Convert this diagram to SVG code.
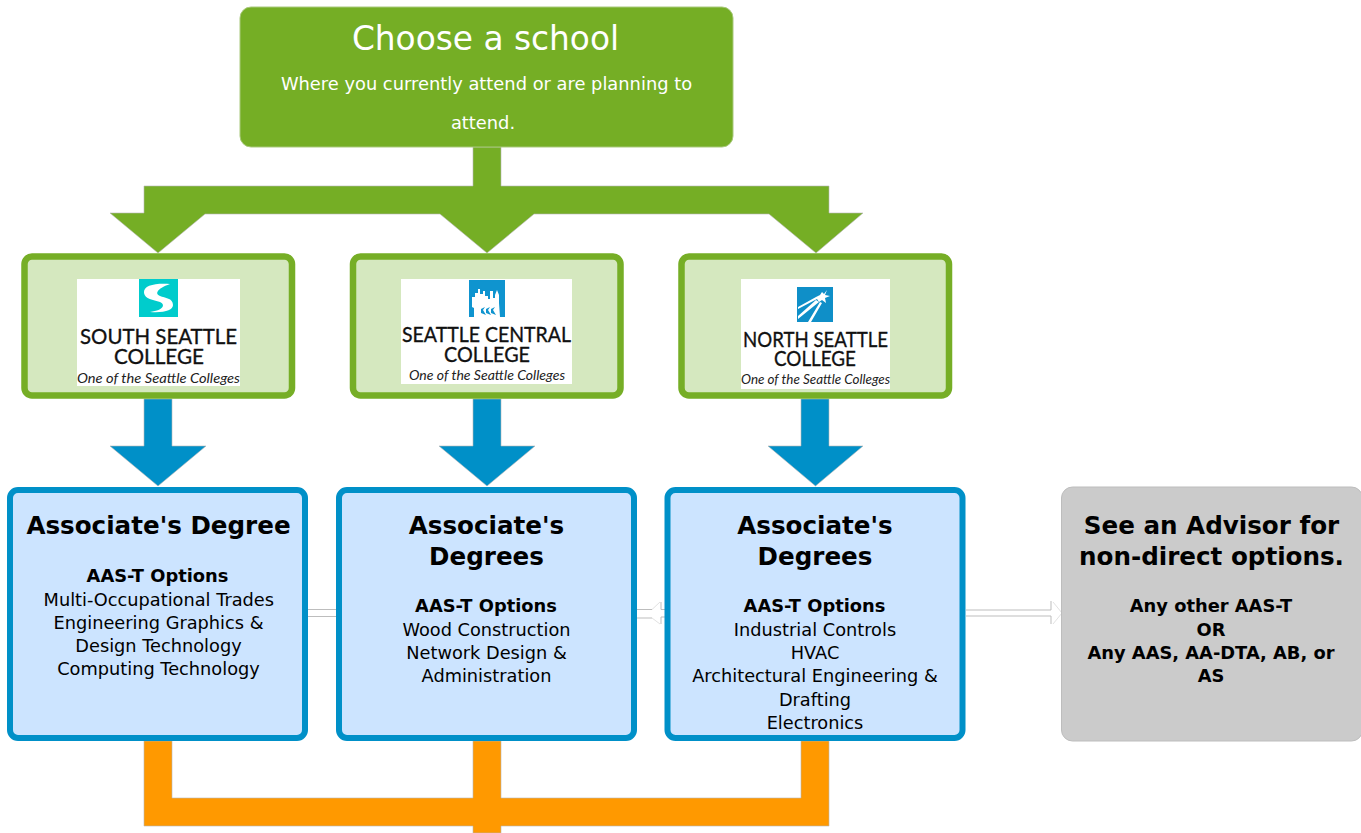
<svg xmlns="http://www.w3.org/2000/svg" width="1361" height="833" viewBox="0 0 1361 833">
<style>
text{font-family:"DejaVu Sans",Verdana,sans-serif;text-anchor:middle}
.top{fill:#75ae25;stroke:#a9c97c;stroke-width:1}
.green{fill:#d5e8bf;stroke:#76ae26;stroke-width:6.500}
.blue{fill:#cce4ff;stroke:#0090c8;stroke-width:6}
.grey{fill:#cbcbcb;stroke:#bdbdbd;stroke-width:1}
.logo{fill:#fff}
.h{font-size:24.600px;font-weight:bold;fill:#000}
.b{font-size:17.850px;font-weight:bold;fill:#000}
.r{font-size:17.750px;fill:#000}
.lg{font-family:Lato,"Liberation Sans",sans-serif;font-size:22px;fill:#111;stroke:#111;stroke-width:.35;text-anchor:start}
.tag{font-family:Lato,"Liberation Sans",sans-serif;font-size:13px;font-style:italic;fill:#222;text-anchor:start}
.c{stroke:#b5b5b5;stroke-width:.6}
.w{fill:none;stroke:#bdbdbd;stroke-width:1}
.wf{fill:none;stroke:#e2e2e2;stroke-width:1}
</style>
<g id="connectors">
<path class="c" fill="#75ae25" d="M473 147H501V186H829V213H863L816 253L769 214H534L487 253L440 214H205L158 253L110 213H144V186H473Z"/>
<path class="c" fill="#0090c8" d="M144 399H172V446H206L158 486L110 446H144Z"/>
<path class="c" fill="#0090c8" d="M473 399H501V446H535L487 486L439 446H473Z"/>
<path class="c" fill="#0090c8" d="M801 399H829V446H863L815.500 486L768 446H801Z"/>
<path class="c" fill="#ff9900" d="M144 741H172V798H473V741H501V798H801V741H829V826H501V833H473V826H144Z"/>
<path class="w" d="M308 609.500H338M308 616.500H338"/>
<path class="w" d="M637 609.500H652M661 602V609.500H665M637 618H652M661 624V617H665"/>
<path class="wf" d="M652 609.500L660 602M652 618L660 624"/>
<path class="w" d="M966 610H1051V601M966 616H1051V624"/>
<path class="wf" d="M1053 602L1062 613L1053 624"/>
</g>
<g id="node-choose">
<rect class="top" x="240" y="7" width="493" height="140" rx="11"/>
<text x="485.500" y="50" font-size="32.800" fill="#fff">Choose a school</text>
<text x="486.500" y="90" font-size="17.850" fill="#fff">Where you currently attend or are planning to</text>
<text x="483" y="129" font-size="17.850" fill="#fff">attend.</text>
</g>
<g id="node-south">
<rect class="green" x="24.500" y="256.500" width="267.500" height="139" rx="7.500"/>
<rect class="logo" x="77" y="279" width="163" height="107"/>
<rect x="139" y="279" width="39" height="38" fill="#00cccc"/>
<path fill="#fff" d="M170 284C156 283 143 285 144 293C145 299 153 300 160 302C165 304 165 310 150 312C165 313 173 310 173 305C173 298 165 298 160 296C155 294 156 289 170 284Z"/>
<text class="lg" x="80" y="344" textLength="157" lengthAdjust="spacingAndGlyphs">SOUTH SEATTLE</text>
<text class="lg" x="114" y="364" textLength="90" lengthAdjust="spacingAndGlyphs">COLLEGE</text>
<text class="tag" x="77" y="383" textLength="163" lengthAdjust="spacingAndGlyphs">One of the Seattle Colleges</text>
</g>
<g id="node-central">
<rect class="green" x="353" y="256.500" width="267.500" height="139" rx="7.500"/>
<rect class="logo" x="401" y="279" width="171" height="105"/>
<rect x="469" y="280" width="36" height="37" fill="#0f94cf"/>
<path fill="#fff" d="M472 297H475V293H478V289H480V294H483V291H485V296H488V299H490V291H493V298H495V295L497 290L499 295V303L500 317H474V308L472 307Z"/>
<path fill="#0f94cf" d="M481 309L485 307L483 310L486 315L481 313ZM486 309L490 307L488 310L491 315L486 313ZM491 309L495 307L493 310L496 315L491 313Z"/>
<text class="lg" x="402" y="342" textLength="169" lengthAdjust="spacingAndGlyphs">SEATTLE CENTRAL</text>
<text class="lg" x="444" y="362" textLength="86" lengthAdjust="spacingAndGlyphs">COLLEGE</text>
<text class="tag" x="409" y="380" textLength="156" lengthAdjust="spacingAndGlyphs">One of the Seattle Colleges</text>
</g>
<g id="node-north">
<rect class="green" x="681.500" y="256.500" width="267.500" height="139" rx="7.500"/>
<rect class="logo" x="741" y="279" width="149" height="110"/>
<rect x="797" y="287" width="36" height="35" fill="#0f8fc8"/>
<path fill="#fff" d="M827 290L825 295L830 296L825 298L826 303L822 300L819 302L817 299L798 309V307L816 297L820 295L822 292L824 294Z"/>
<path fill="#fff" d="M816 300L798 316V319L819 302ZM820 302L808 322H811L822 303Z"/>
<text class="lg" x="743" y="347" textLength="145" lengthAdjust="spacingAndGlyphs">NORTH SEATTLE</text>
<text class="lg" x="774" y="366" textLength="82" lengthAdjust="spacingAndGlyphs">COLLEGE</text>
<text class="tag" x="741" y="384" textLength="149" lengthAdjust="spacingAndGlyphs">One of the Seattle Colleges</text>
</g>
<g id="node-degree-south">
<rect class="blue" x="10" y="490" width="295" height="248" rx="8"/>
<text class="h" x="158.500" y="534">Associate's Degree</text>
<text class="b" x="157.500" y="582">AAS-T Options</text>
<text class="r" x="158.800" y="606">Multi-Occupational Trades</text>
<text class="r" x="158.500" y="629">Engineering Graphics &amp;</text>
<text class="r" x="158.500" y="652">Design Technology</text>
<text class="r" x="158.500" y="675">Computing Technology</text>
</g>
<g id="node-degree-central">
<rect class="blue" x="339" y="490" width="295" height="248" rx="8"/>
<text class="h" x="486.500" y="534">Associate's</text>
<text class="h" x="486.500" y="565">Degrees</text>
<text class="b" x="486" y="612">AAS-T Options</text>
<text class="r" x="486.500" y="636">Wood Construction</text>
<text class="r" x="486.500" y="659">Network Design &amp;</text>
<text class="r" x="486.500" y="682">Administration</text>
</g>
<g id="node-degree-north">
<rect class="blue" x="667.500" y="490" width="295" height="248" rx="8"/>
<text class="h" x="815" y="534">Associate's</text>
<text class="h" x="815" y="565">Degrees</text>
<text class="b" x="814.500" y="612">AAS-T Options</text>
<text class="r" x="815" y="636">Industrial Controls</text>
<text class="r" x="815" y="659">HVAC</text>
<text class="r" x="815" y="682">Architectural Engineering &amp;</text>
<text class="r" x="815" y="706">Drafting</text>
<text class="r" x="815" y="729">Electronics</text>
</g>
<g id="node-advisor">
<rect class="grey" x="1061.500" y="487" width="301" height="254" rx="11"/>
<text class="h" x="1211.500" y="534">See an Advisor for</text>
<text class="h" x="1211.500" y="565">non-direct options.</text>
<text class="b" x="1211" y="612">Any other AAS-T</text>
<text class="b" x="1211" y="636">OR</text>
<text class="b" x="1211" y="659">Any AAS, AA-DTA, AB, or</text>
<text class="b" x="1211" y="682">AS</text>
</g>
</svg>
